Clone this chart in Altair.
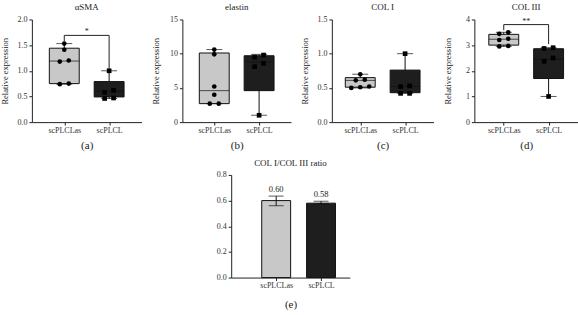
import altair as alt
import pandas as pd

groups = ["scPLCLas", "scPLCL"]
light = "#c8c8c8"
dark = "#1e1e1e"
FONT = "Liberation Serif"

# (a) αSMA
a_las = [1.53, 1.41, 1.18, 1.20, 0.74, 0.75]
a_pcl = [1.00, 0.62, 0.58, 0.47, 0.46]
a_min = [0.74, 0.46]
a_q1 = [0.75, 0.49]
a_med = [1.19, 0.60]
a_q3 = [1.44, 0.79]
a_max = [1.53, 1.00]
a_brk = [1.69, 1.57, 1.03]
a_sig = "*"

# (b) elastin
b_las = [10.6, 9.9, 5.2, 4.0, 2.7, 2.7]
b_pcl = [9.8, 9.5, 8.6, 8.1, 1.0]
b_min = [2.7, 1.0]
b_q1 = [2.7, 4.6]
b_med = [4.6, 8.8]
b_q3 = [10.1, 9.7]
b_max = [10.6, 9.9]

# (c) COL I
c_las = [0.70, 0.62, 0.61, 0.52, 0.50, 0.51]
c_pcl = [1.00, 0.53, 0.52, 0.42, 0.42]
c_min = [0.50, 0.42]
c_q1 = [0.51, 0.43]
c_med = [0.61, 0.52]
c_q3 = [0.65, 0.76]
c_max = [0.70, 1.00]

# (d) COL III
d_las = [3.50, 3.44, 3.25, 3.20, 2.97, 2.95]
d_pcl = [2.90, 2.87, 2.50, 2.37, 1.00]
d_min = [2.95, 1.00]
d_q1 = [3.00, 1.70]
d_med = [3.23, 2.46]
d_q3 = [3.42, 2.86]
d_max = [3.50, 2.90]
d_brk = [3.80, 3.58, 3.04]
d_sig = "**"

# (e) COL I/COL III ratio
e_mean = [0.60, 0.58]
e_lo = [0.56, 0.575]
e_hi = [0.635, 0.595]
e_lab = ["0.60", "0.58"]

color_scale = alt.Scale(domain=groups, range=[light, dark])
STEP = 45


def jitter(values, span):
    order = sorted(range(len(values)), key=lambda i: values[i])
    offs = [0.0] * len(values)
    clusters, cur = [], [order[0]]
    for i in order[1:]:
        if values[i] - values[cur[-1]] < 0.035 * span:
            cur.append(i)
        else:
            clusters.append(cur)
            cur = [i]
    clusters.append(cur)
    for cl in clusters:
        k = len(cl)
        for j, i in enumerate(cl):
            offs[i] = (j - (k - 1) / 2) * 9
    return offs


def xscale(width, align=0.5):
    pad = (width / STEP - 1) / 2
    return alt.Scale(type="point", domain=groups, padding=pad, align=align)


def box_panel(title, letter, width, ymax, yvals, fmt, las, pcl, mn, q1, md, q3, mx,
              brk=None, sig=None):
    stats = pd.DataFrame({"group": groups, "mn": mn, "q1": q1, "md": md, "q3": q3, "mx": mx})
    pts = pd.DataFrame({
        "group": [groups[0]] * len(las) + [groups[1]] * len(pcl),
        "v": las + pcl,
        "off": jitter(las, ymax) + jitter(pcl, ymax),
    })
    xs = xscale(width)
    xax = alt.Axis(title=letter, labelAngle=0, titleFontSize=11, titlePadding=5,
                   labelPadding=1)
    x = alt.X("group:N", scale=xs, sort=groups, axis=xax)
    yscale = alt.Scale(domain=[0, ymax], nice=False)
    yaxis = alt.Axis(values=yvals, format=fmt, title="Relative expression",
                     minExtent=18, maxExtent=18, titlePadding=4, labelOverlap=False)

    def Y(f):
        return alt.Y(f, scale=yscale, axis=yaxis, title="Relative expression")

    base = alt.Chart(stats)
    whisk = base.mark_rule(color="#111", strokeWidth=1).encode(x=x, y=Y("mn:Q"), y2="mx:Q")
    box = base.mark_bar(size=30, stroke="#111", strokeWidth=1).encode(
        x=x, y=Y("q1:Q"), y2="q3:Q",
        color=alt.Color("group:N", scale=color_scale, legend=None))
    med = base.mark_tick(size=30, thickness=1, color="#111").encode(x=x, y=Y("md:Q"))
    cap_lo = base.mark_tick(size=16, thickness=1, color="#111").encode(x=x, y=Y("mn:Q"))
    cap_hi = base.mark_tick(size=16, thickness=1, color="#111").encode(x=x, y=Y("mx:Q"))
    dots = alt.Chart(pts).mark_point(filled=True, size=22, opacity=1, color="#000").encode(
        x=x, y=Y("v:Q"),
        xOffset=alt.XOffset("off:Q", scale=None),
        shape=alt.Shape("group:N", scale=alt.Scale(domain=groups, range=["circle", "square"]),
                        legend=None))
    layers = [whisk, box, med, cap_lo, cap_hi, dots]
    if brk is not None:
        bdf = pd.DataFrame({"g1": [groups[0]], "g2": [groups[1]], "top": [brk[0]],
                            "l": [brk[1]], "r": [brk[2]], "s": [sig]})
        bb = alt.Chart(bdf)
        x1 = alt.X("g1:N", scale=xs, sort=groups, axis=xax)
        x2 = alt.X("g2:N", scale=xs, sort=groups, axis=xax)
        layers += [
            bb.mark_rule(color="#222", strokeWidth=1).encode(x=x1, x2="g2:N", y=Y("top:Q")),
            bb.mark_rule(color="#222", strokeWidth=1).encode(x=x1, y=Y("top:Q"), y2="l:Q"),
            bb.mark_rule(color="#222", strokeWidth=1).encode(x=x2, y=Y("top:Q"), y2="r:Q"),
            bb.mark_text(font=FONT, fontSize=8, dx=STEP / 2, dy=-3, color="#222").encode(
                x=x1, y=Y("top:Q"), text="s:N"),
        ]
    return alt.layer(*layers).properties(
        width=width, height=103,
        title=alt.TitleParams(title, fontSize=9, font=FONT, fontWeight="normal",
                              offset=4, color="#222"))


pa = box_panel("αSMA", "(a)", 110, 2.0, [0, 0.5, 1.0, 1.5, 2.0], ".1f",
               a_las, a_pcl, a_min, a_q1, a_med, a_q3, a_max, a_brk, a_sig)
pb = box_panel("elastin", "(b)", 109, 15, [0, 5, 10, 15], "d",
               b_las, b_pcl, b_min, b_q1, b_med, b_q3, b_max)
pc = box_panel("COL I", "(c)", 102, 1.5, [0, 0.5, 1.0, 1.5], ".1f",
               c_las, c_pcl, c_min, c_q1, c_med, c_q3, c_max)
pd_ = box_panel("COL III", "(d)", 104, 4, [0, 1, 2, 3, 4], "d",
                d_las, d_pcl, d_min, d_q1, d_med, d_q3, d_max, d_brk, d_sig)

edf = pd.DataFrame({"group": groups, "m": e_mean, "lo": e_lo, "hi": e_hi, "lab": e_lab})
ex = alt.X("group:N", scale=alt.Scale(type="point", domain=groups, padding=0.822, align=0.61),
           sort=groups,
           axis=alt.Axis(title="(e)", labelAngle=0, titleFontSize=11, titlePadding=9,
                         labelPadding=1))
e_yscale = alt.Scale(domain=[0, 0.8], nice=False)
e_yaxis = alt.Axis(values=[0, 0.2, 0.4, 0.6, 0.8], format=".1f", title=None,
                   minExtent=18, maxExtent=18, labelOverlap=False)


def EY(f):
    return alt.Y(f, scale=e_yscale, axis=e_yaxis, title=None)


eb = alt.Chart(edf)
e_bars = eb.mark_bar(size=29, stroke="#111", strokeWidth=1).encode(
    x=ex, y=EY("m:Q"),
    color=alt.Color("group:N", scale=color_scale, legend=None))
e_err = eb.mark_rule(color="#111", strokeWidth=1).encode(x=ex, y=EY("lo:Q"), y2="hi:Q")
e_cap1 = eb.mark_tick(size=15, thickness=1, color="#111").encode(x=ex, y=EY("lo:Q"))
e_cap2 = eb.mark_tick(size=15, thickness=1, color="#111").encode(x=ex, y=EY("hi:Q"))
e_txt = eb.mark_text(font=FONT, fontSize=8.5, dy=-7, color="#222").encode(
    x=ex, y=EY("hi:Q"), text="lab:N")
pe = alt.layer(e_bars, e_err, e_cap1, e_cap2, e_txt).properties(
    width=119, height=103,
    title=alt.TitleParams("COL I/COL III ratio", fontSize=9, font=FONT, fontWeight="normal",
                          offset=3, color="#222"))

spacer = alt.Chart(pd.DataFrame({"v": [0]})).mark_point(opacity=0).encode(
    x=alt.X("v:Q", axis=None), y=alt.Y("v:Q", axis=None)).properties(width=182, height=103)

top = alt.hconcat(pa, pb, pc, pd_, spacing=10)
bottom = alt.hconcat(spacer, pe, spacing=0)

chart = alt.vconcat(top, bottom, spacing=9).properties(
    padding={"left": 1, "top": 2, "right": 0, "bottom": 0},
    background="white",
).configure_view(stroke=None).configure_axis(
    domainColor="#222", tickColor="#222", labelColor="#333", titleColor="#222",
    labelFont=FONT, titleFont=FONT, labelFontSize=8, titleFontSize=8.5,
    titleFontWeight="normal", grid=False, tickSize=3, domainWidth=1, tickWidth=1,
)

chart.save("out.html", embed_options={"renderer": "svg", "actions": False})
